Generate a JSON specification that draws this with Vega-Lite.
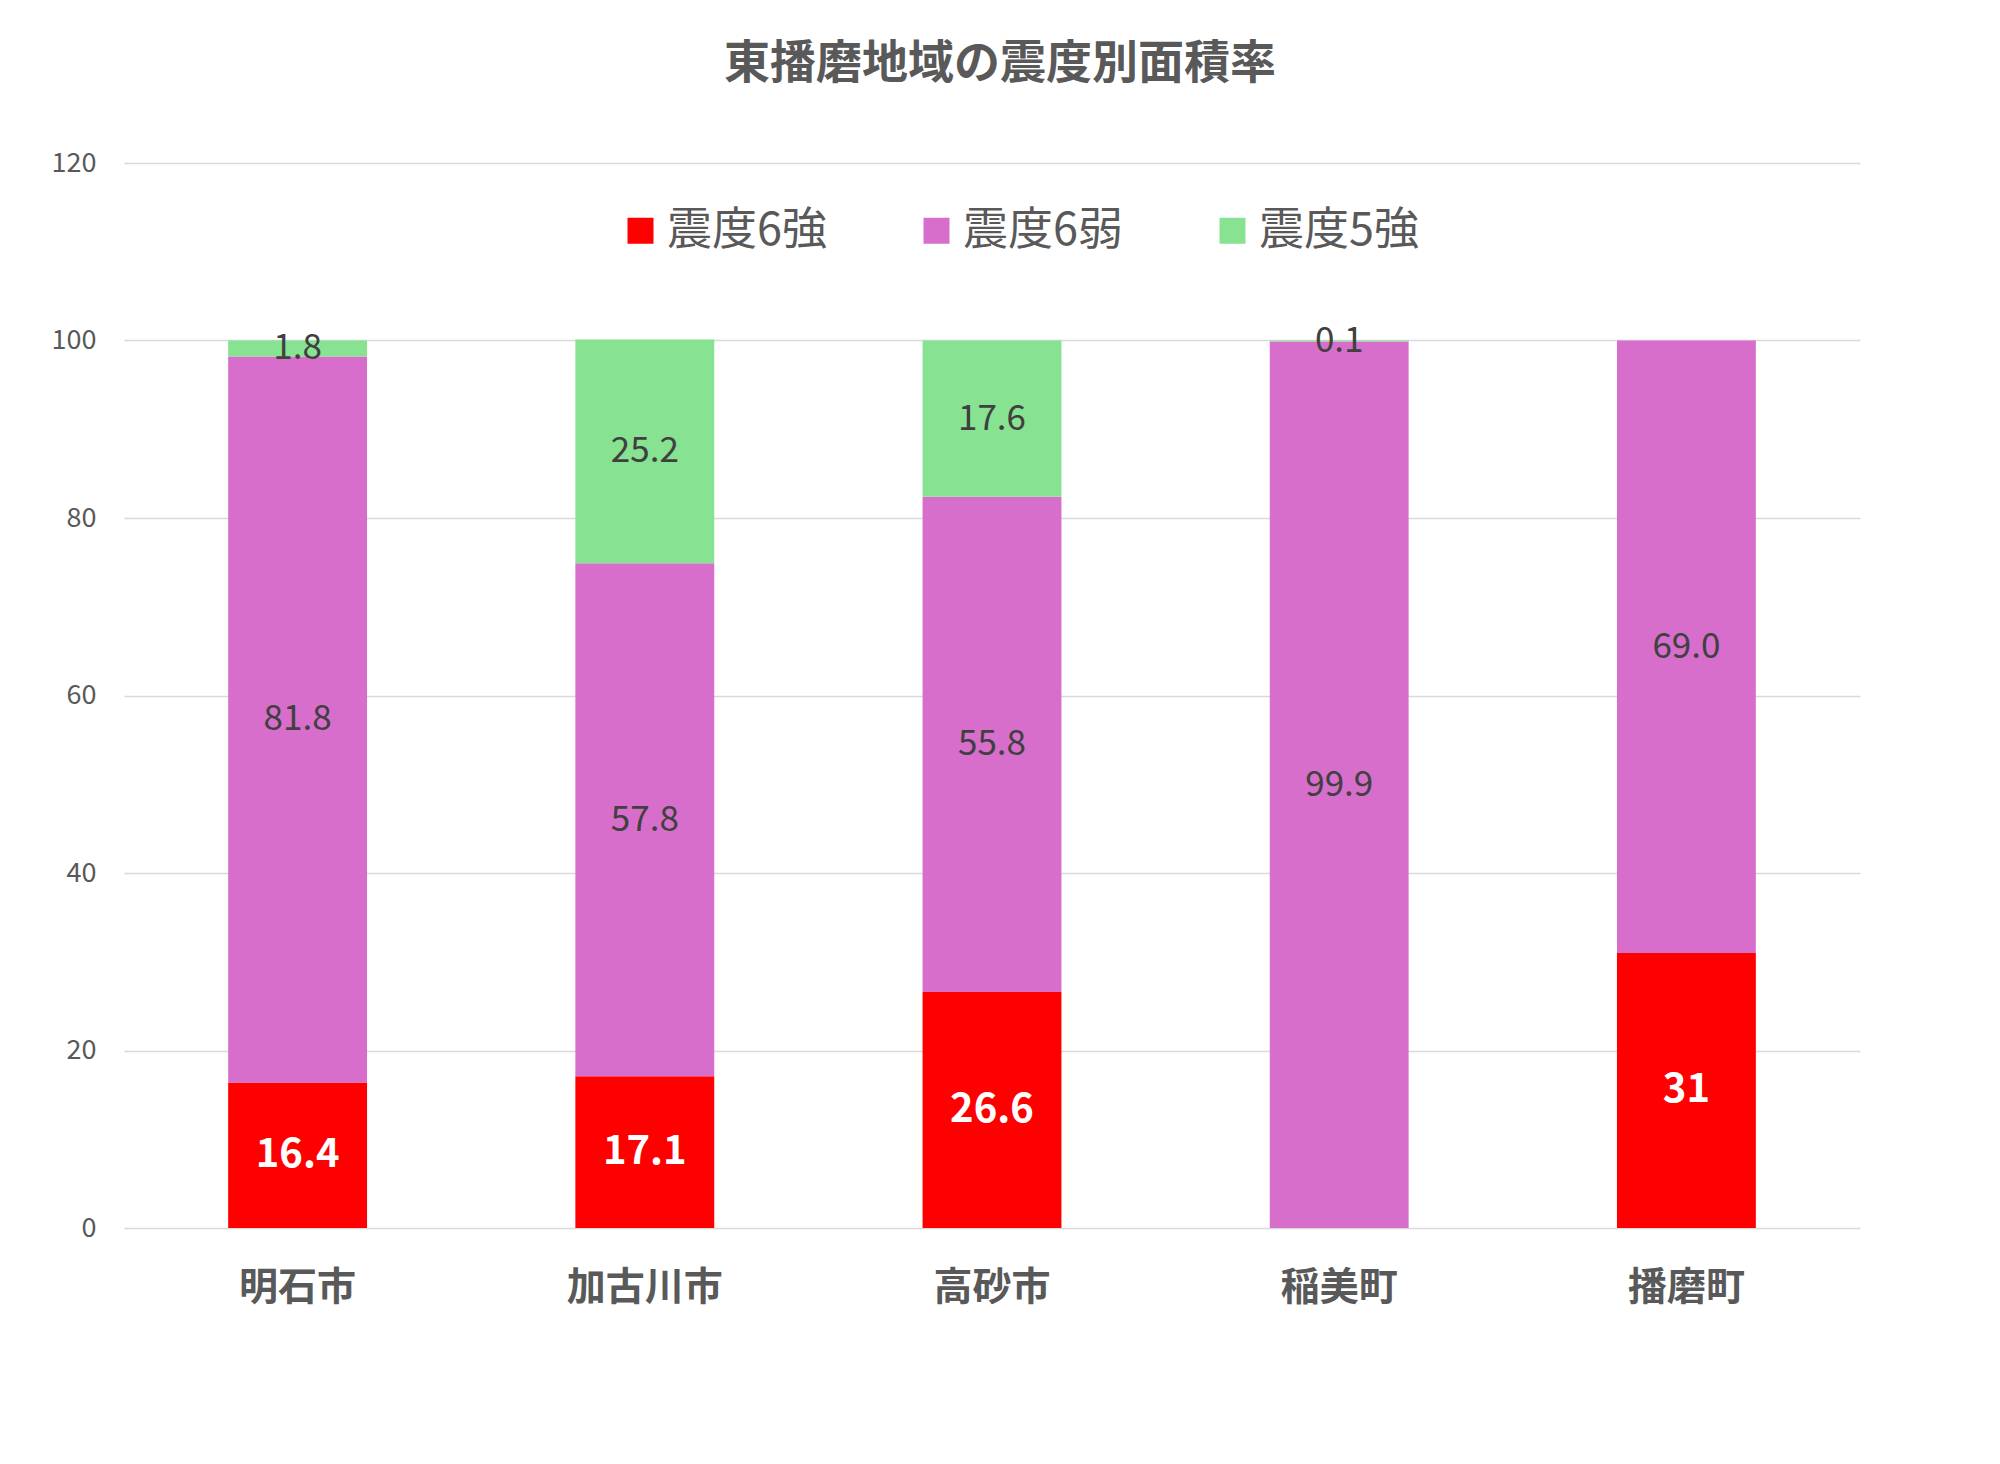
{
  "$schema": "https://vega.github.io/schema/vega-lite/v6.json",
  "width": 1736,
  "height": 1065,
  "autosize": {"type": "none"},
  "padding": {"left": 124, "top": 163, "right": 140, "bottom": 236},
  "background": "white",
  "config": {"view": {"stroke": null}, "font": "Noto Sans CJK JP"},
  "title": {"text": "東播磨地域の震度別面積率", "fontSize": 46, "font": "Noto Sans CJK JP", "fontWeight": "bold", "color": "#595959", "offset": 61, "anchor": "middle", "dx": 8},
  "data": {"values": [
    {"city": "明石市", "intensity": "震度6強", "order": 1, "value": 16.4, "label": "16.4"},
    {"city": "明石市", "intensity": "震度6弱", "order": 2, "value": 81.8, "label": "81.8"},
    {"city": "明石市", "intensity": "震度5強", "order": 3, "value": 1.8, "label": "1.8"},
    {"city": "加古川市", "intensity": "震度6強", "order": 1, "value": 17.1, "label": "17.1"},
    {"city": "加古川市", "intensity": "震度6弱", "order": 2, "value": 57.8, "label": "57.8"},
    {"city": "加古川市", "intensity": "震度5強", "order": 3, "value": 25.2, "label": "25.2"},
    {"city": "高砂市", "intensity": "震度6強", "order": 1, "value": 26.6, "label": "26.6"},
    {"city": "高砂市", "intensity": "震度6弱", "order": 2, "value": 55.8, "label": "55.8"},
    {"city": "高砂市", "intensity": "震度5強", "order": 3, "value": 17.6, "label": "17.6"},
    {"city": "稲美町", "intensity": "震度6強", "order": 1, "value": 0, "label": ""},
    {"city": "稲美町", "intensity": "震度6弱", "order": 2, "value": 99.9, "label": "99.9"},
    {"city": "稲美町", "intensity": "震度5強", "order": 3, "value": 0.1, "label": "0.1"},
    {"city": "播磨町", "intensity": "震度6強", "order": 1, "value": 31, "label": "31"},
    {"city": "播磨町", "intensity": "震度6弱", "order": 2, "value": 69.0, "label": "69.0"},
    {"city": "播磨町", "intensity": "震度5強", "order": 3, "value": 0, "label": ""}
  ]},
  "encoding": {
    "x": {
      "field": "city", "type": "nominal",
      "sort": ["明石市", "加古川市", "高砂市", "稲美町", "播磨町"],
      "scale": {"paddingInner": 0.6, "paddingOuter": 0.3},
      "axis": {"title": null, "domain": false, "ticks": false, "labelAngle": 0, "labelFontSize": 39, "labelFontWeight": "bold", "labelColor": "#595959", "labelPadding": 40, "labelFont": "Noto Sans CJK JP"}
    }
  },
  "layer": [
    {
      "mark": {"type": "bar"},
      "encoding": {
        "y": {
          "field": "value", "type": "quantitative", "stack": "zero", "title": null,
          "scale": {"domain": [0, 120]},
          "axis": {"title": null, "values": [0, 20, 40, 60, 80, 100, 120], "domain": false, "ticks": false, "labelFontSize": 27, "labelColor": "#595959", "labelPadding": 28, "gridColor": "#d9d9d9", "gridWidth": 1.5, "labelFont": "Noto Sans CJK JP"}
        },
        "color": {
          "field": "intensity", "type": "nominal",
          "scale": {"domain": ["震度6強", "震度6弱", "震度5強"], "range": ["#FF0000", "#D86ECC", "#87E291"]},
          "legend": {"orient": "none", "legendX": 494, "legendY": 45, "direction": "horizontal", "title": null, "symbolType": "square", "symbolSize": 676, "symbolStrokeWidth": 0, "labelFontSize": 45, "labelFont": "Noto Sans CJK JP", "labelColor": "#595959", "labelOffset": 4, "columnPadding": 87, "labelLimit": 400, "padding": 0}
        },
        "order": {"field": "order", "type": "quantitative"}
      }
    },
    {
      "transform": [
        {"stack": "value", "groupby": ["city"], "sort": [{"field": "order", "order": "ascending"}], "as": ["y0", "y1"]},
        {"fold": ["y0", "y1"], "as": ["k", "pos"]},
        {"aggregate": [{"op": "mean", "field": "pos", "as": "mid"}], "groupby": ["city", "intensity", "label"]},
        {"filter": "datum.label != ''"},
        {"filter": "datum.intensity != '震度6強'"}
      ],
      "mark": {"type": "text", "fontSize": 35, "color": "#404040", "align": "center", "baseline": "middle", "font": "Noto Sans CJK JP"},
      "encoding": {
        "y": {"field": "mid", "type": "quantitative", "title": null},
        "text": {"field": "label", "type": "nominal"}
      }
    },
    {
      "transform": [
        {"stack": "value", "groupby": ["city"], "sort": [{"field": "order", "order": "ascending"}], "as": ["y0", "y1"]},
        {"fold": ["y0", "y1"], "as": ["k", "pos"]},
        {"aggregate": [{"op": "mean", "field": "pos", "as": "mid"}], "groupby": ["city", "intensity", "label"]},
        {"filter": "datum.label != ''"},
        {"filter": "datum.intensity == '震度6強'"}
      ],
      "mark": {"type": "text", "fontSize": 40, "fontWeight": "bold", "color": "#FFFFFF", "align": "center", "baseline": "middle", "font": "Noto Sans CJK JP"},
      "encoding": {
        "y": {"field": "mid", "type": "quantitative", "title": null},
        "text": {"field": "label", "type": "nominal"}
      }
    }
  ]
}
